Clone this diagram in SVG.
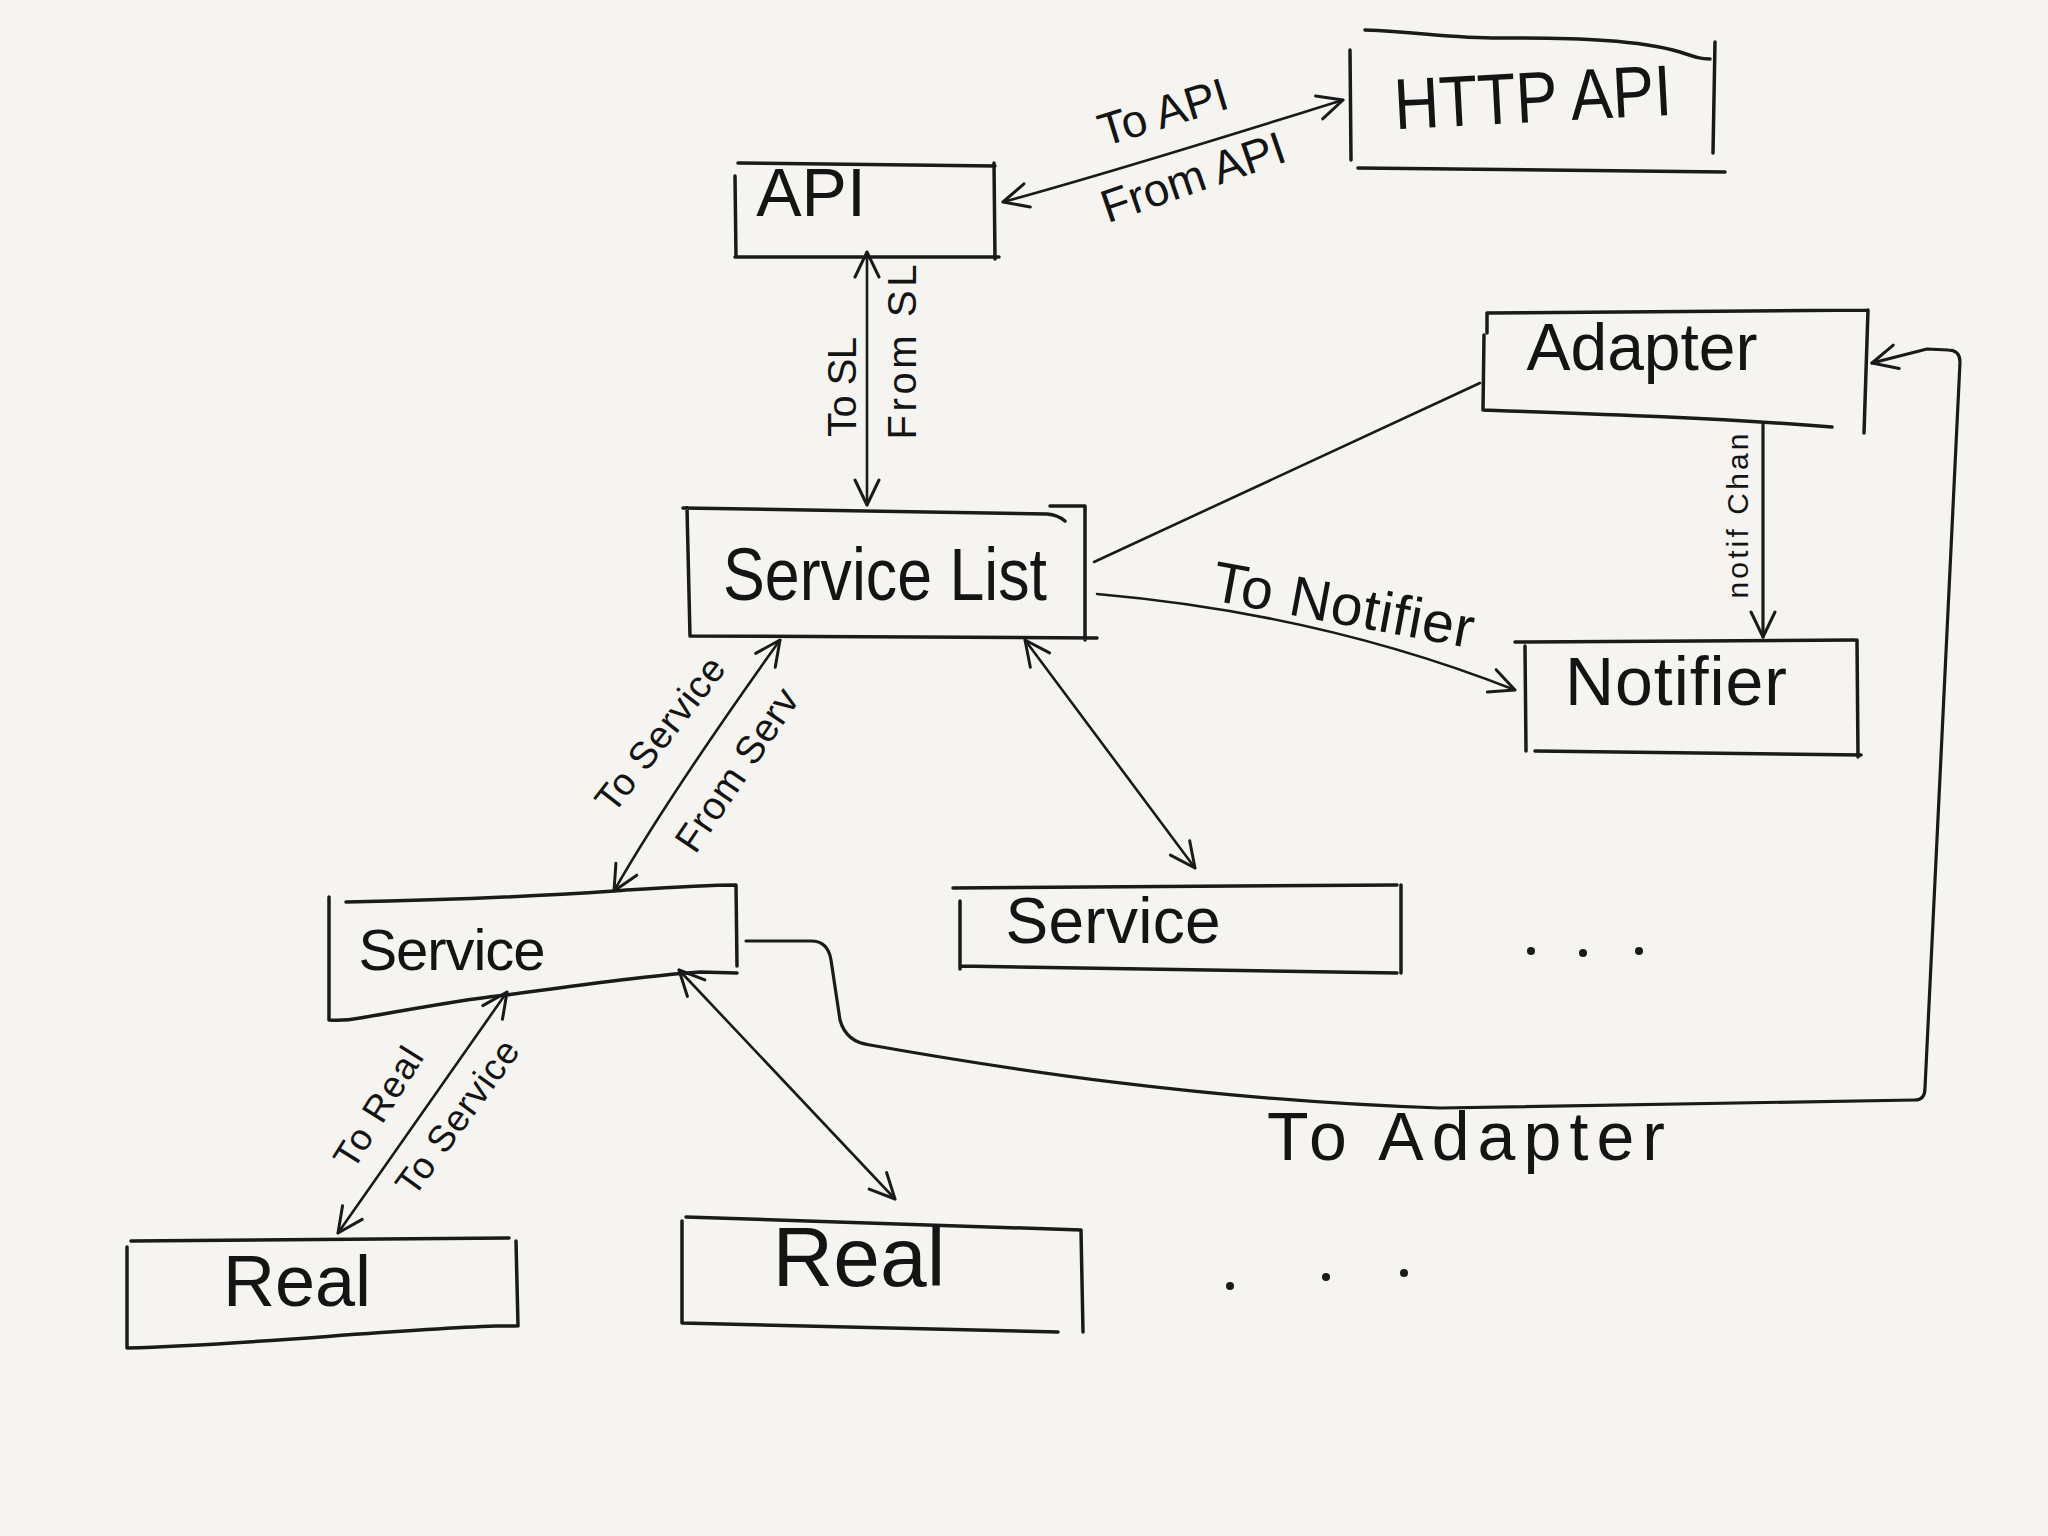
<svg xmlns="http://www.w3.org/2000/svg" width="2048" height="1536" viewBox="0 0 2048 1536">
<defs>
<style>
.box{fill:none;stroke:#1a1a1a;stroke-width:3.5;stroke-linecap:round;stroke-linejoin:round}
.con{fill:none;stroke:#1a1a1a;stroke-width:2.6;stroke-linecap:round;stroke-linejoin:round}
.thick{stroke-width:3.2}
.lbl{font-family:"Liberation Sans",Arial,sans-serif;fill:#141414;text-anchor:middle}
.node{font-family:"Liberation Sans",Arial,sans-serif;fill:#141414;text-anchor:middle}
</style>
<marker id="arr" viewBox="0 0 30 30" refX="28" refY="15" markerWidth="30" markerHeight="30" markerUnits="userSpaceOnUse" orient="auto-start-reverse">
<path d="M3,3 L28,15 L3,27" fill="none" stroke="#1a1a1a" stroke-width="3" stroke-linecap="round" stroke-linejoin="round"/>
</marker>
</defs>
<rect x="0" y="0" width="2048" height="1536" fill="#f5f4f0"/>

<g id="connectors">
<path class="con" d="M1003,202 C1120,170 1240,132 1343,100" marker-start="url(#arr)" marker-end="url(#arr)"/>
<path class="con" d="M867,252 L867,505" marker-start="url(#arr)" marker-end="url(#arr)"/>
<path class="con" d="M1480,383 L1094,562"/>
<path class="con" d="M1097,594 C1200,603 1350,625 1515,690" marker-end="url(#arr)"/>
<path class="con thick" d="M1763,424 L1763,637" marker-end="url(#arr)"/>
<path class="con" d="M780,640 C730,710 660,810 614,891" marker-start="url(#arr)" marker-end="url(#arr)"/>
<path class="con" d="M1025,640 L1195,868" marker-start="url(#arr)" marker-end="url(#arr)"/>
<path class="con" d="M507,992 L338,1233" marker-start="url(#arr)" marker-end="url(#arr)"/>
<path class="con" d="M679,970 L895,1199" marker-start="url(#arr)" marker-end="url(#arr)"/>
<path class="con thick" d="M746,941 L811,941 Q828,941 831,960 L840,1020 Q846,1042 870,1045 C1000,1068 1200,1100 1440,1108 L1915,1100 Q1925,1100 1925,1088 L1960,362 Q1960,350 1948,350 L1927,349 L1872,363" marker-end="url(#arr)"/>
</g>

<g id="node-http-api">
<path class="box" d="M1365,30 C1420,32 1450,38 1500,38 C1580,38 1640,40 1680,52 C1695,57 1700,59 1710,59 M1350,50 L1351,160 M1715,42 L1713,153 M1358,168 L1725,172"/>
<text class="node" x="1534" y="122" font-size="72" textLength="278" lengthAdjust="spacingAndGlyphs" transform="rotate(-3 1534 122)">HTTP API</text>
</g>

<g id="node-api">
<path class="box" d="M738,163 L995,166 M735,176 L736,257 M735,257 L999,257 M994,163 L995,259"/>
<text class="node" x="811" y="216" font-size="68">API</text>
</g>

<g id="node-adapter">
<path class="box" d="M1487,333 L1487,313 L1868,310 M1484,335 L1483,410 M1483,410 C1600,414 1720,418 1832,427 M1868,310 L1864,433"/>
<text class="node" x="1642" y="370" font-size="66" textLength="231">Adapter</text>
</g>

<g id="node-service-list">
<path class="box" d="M683,508 L1047,514 Q1058,515 1065,521 M1050,506 L1085,506 L1085,640 M687,508 L690,636 M690,636 L1097,638"/>
<text class="node" x="885" y="600" font-size="74" textLength="324" lengthAdjust="spacingAndGlyphs">Service List</text>
</g>

<g id="node-notifier">
<path class="box" d="M1515,642 L1855,640 M1525,646 L1526,751 M1535,751 L1861,755 M1857,640 L1858,757"/>
<text class="node" x="1676" y="705" font-size="68" textLength="222">Notifier</text>
</g>

<g id="node-service-1">
<path class="box" d="M346,902 C450,900 540,896 614,891 C660,888 700,885 736,885 L737,966 M329,897 L329,1020 Q345,1021 360,1018 C420,1008 470,998 507,995 C580,985 650,975 700,972 L737,973"/>
<text class="node" x="452" y="970" font-size="58" textLength="187">Service</text>
</g>

<g id="node-service-2">
<path class="box" d="M953,888 L1397,885 M960,901 L960,969 M960,966 L1397,973 M1401,885 L1401,973"/>
<text class="node" x="1113" y="943" font-size="64" textLength="215">Service</text>
</g>

<g id="node-real-1">
<path class="box" d="M131,1241 L509,1238 M127,1247 L127,1348 M127,1348 C250,1345 380,1330 496,1326 L516,1326 M516,1241 L518,1326"/>
<text class="node" x="297" y="1306" font-size="72">Real</text>
</g>

<g id="node-real-2">
<path class="box" d="M686,1217 L1081,1230 M682,1221 L682,1323 M682,1323 L1058,1332 M1081,1230 L1083,1332"/>
<text class="node" x="859" y="1286" font-size="84">Real</text>
</g>

<g id="ellipsis-1">
<circle cx="1531" cy="951" r="4" fill="#1a1a1a"/>
<circle cx="1583" cy="953" r="4" fill="#1a1a1a"/>
<circle cx="1639" cy="951" r="4" fill="#1a1a1a"/>
</g>
<g id="ellipsis-2">
<circle cx="1230" cy="1286" r="4" fill="#1a1a1a"/>
<circle cx="1326" cy="1277" r="4" fill="#1a1a1a"/>
<circle cx="1404" cy="1273" r="4" fill="#1a1a1a"/>
</g>

<g id="labels">
<text class="lbl" font-size="46" transform="translate(1163,112) rotate(-17)" x="0" y="16">To API</text>
<text class="lbl" font-size="46" transform="translate(1193,177) rotate(-19)" x="0" y="16">From API</text>
<text class="lbl" font-size="40" textLength="100" transform="translate(842,387) rotate(-90)" x="0" y="14">To SL</text>
<text class="lbl" font-size="40" textLength="175" transform="translate(902,352) rotate(-90)" x="0" y="14">From SL</text>
<text class="lbl" font-size="30" textLength="165" transform="translate(1738,516) rotate(-90)" x="0" y="10">notif Chan</text>
<text class="lbl" font-size="57" textLength="265" transform="rotate(10.5 1340 624)" x="1340" y="624">To Notifier</text>
<text class="lbl" font-size="38" textLength="185" transform="translate(660,734) rotate(-52)" x="0" y="13">To Service</text>
<text class="lbl" font-size="39" textLength="188" transform="translate(737,770) rotate(-56)" x="0" y="13">From Serv</text>
<text class="lbl" font-size="37" textLength="135" transform="translate(378,1107) rotate(-58)" x="0" y="13">To Real</text>
<text class="lbl" font-size="37" textLength="182" transform="translate(457,1117) rotate(-54)" x="0" y="13">To Service</text>
<text class="lbl" font-size="68" textLength="398" x="1466" y="1160">To Adapter</text>
</g>
</svg>
